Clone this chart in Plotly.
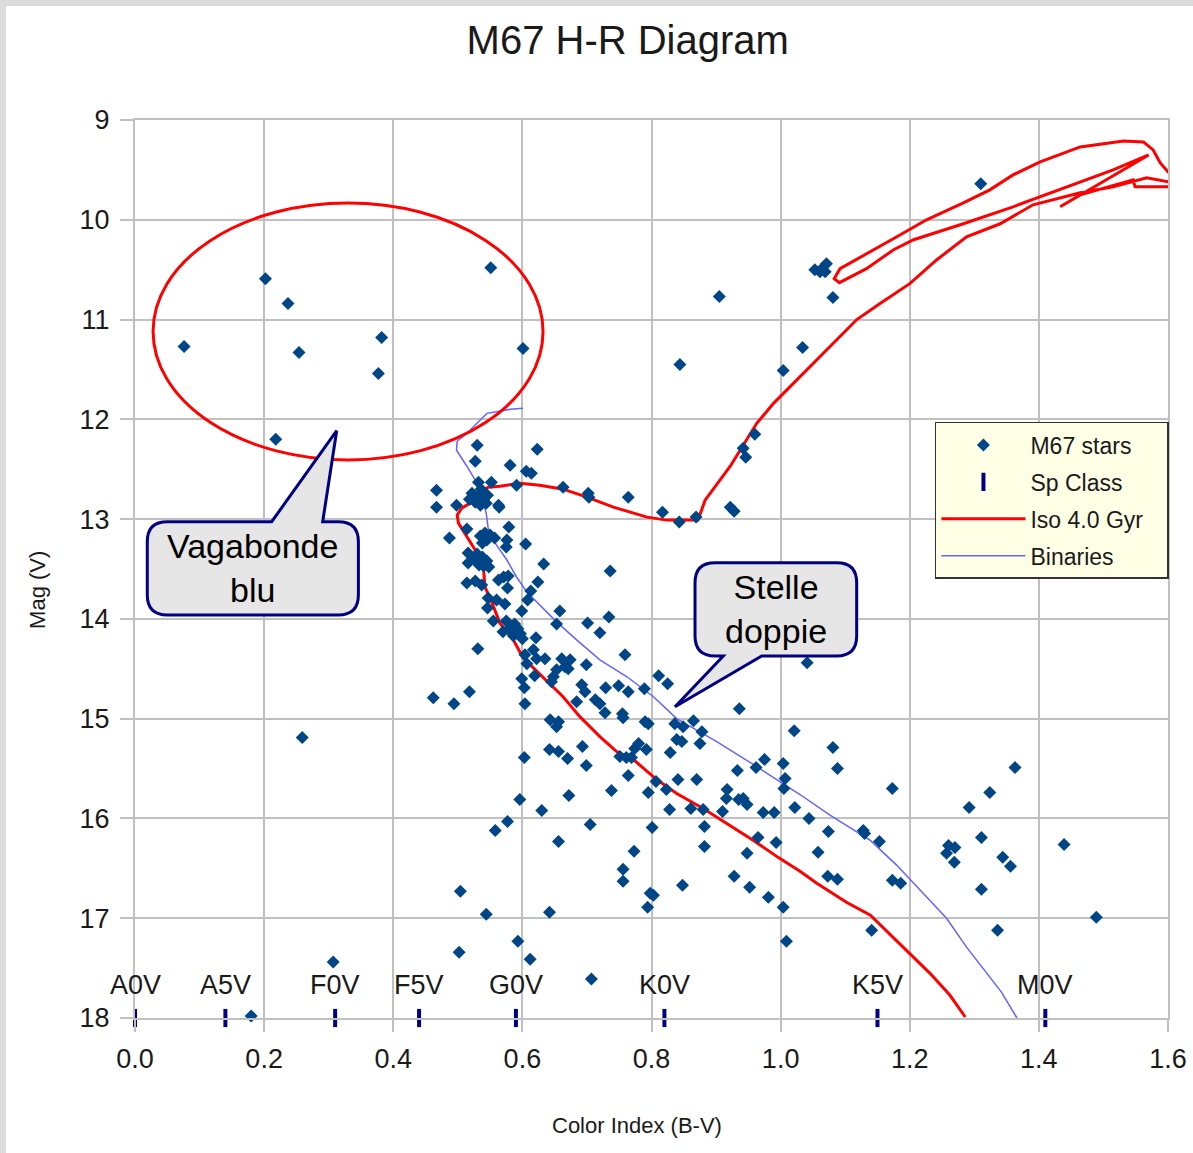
import plotly.graph_objects as go

# ---------------- data ----------------
star_pts = [
    (0.202,10.59),(0.237,10.84),(0.076,11.27),(0.254,11.33),(0.382,11.18),(0.377,11.54),(0.551,10.48),
    (0.601,11.29),(0.218,12.20),(0.259,15.19),(0.307,17.44),(0.180,17.98),
    (0.530,12.26),(0.623,12.30),(0.527,12.42),(0.581,12.46),(0.606,12.52),(0.614,12.54),(0.532,12.63),
    (0.552,12.63),(0.591,12.66),(0.663,12.68),(0.702,12.74),(0.703,12.78),(0.764,12.78),(0.817,12.93),
    (0.843,13.03),(0.869,12.98),(0.467,12.71),(0.467,12.88),(0.498,12.86),
    (0.522,12.74),(0.530,12.78),(0.536,12.70),(0.540,12.80),(0.527,12.83),(0.546,12.76),(0.535,12.86),
    (0.518,12.80),(0.544,12.84),
    (0.563,12.86),(0.564,12.88),(0.514,13.10),(0.487,13.19),(0.579,13.08),
    (0.535,13.17),(0.542,13.14),(0.550,13.16),(0.557,13.19),(0.545,13.21),(0.538,13.24),
    (0.576,13.21),(0.575,13.28),(0.605,13.25),(0.516,13.34),(0.516,13.44),
    (0.530,13.35),(0.538,13.38),(0.545,13.42),(0.540,13.47),(0.533,13.46),(0.548,13.48),(0.527,13.39),
    (0.633,13.45),(0.736,13.52),(0.514,13.64),(0.527,13.62),(0.537,13.66),(0.563,13.61),(0.571,13.58),
    (0.578,13.57),(0.577,13.69),(0.624,13.63),(0.613,13.72),(0.608,13.81),(0.547,13.79),(0.560,13.81),
    (0.546,13.89),(0.573,13.85),(0.599,13.92),(0.658,13.92),(0.701,14.04),(0.734,13.98),(0.720,14.14),
    (0.653,14.05),
    (0.555,14.02),(0.575,14.02),(0.588,14.05),(0.590,14.12),(0.597,14.15),(0.586,14.17),(0.570,14.13),
    (0.600,14.20),(0.593,14.10),(0.580,14.10),
    (0.621,14.19),(0.531,14.30),(0.604,14.36),(0.617,14.31),(0.622,14.40),(0.635,14.40),(0.607,14.45),
    (0.661,14.40),(0.674,14.41),(0.653,14.51),(0.666,14.48),(0.648,14.58),(0.645,14.63),(0.671,14.50),
    (0.699,14.46),(0.759,14.36),(0.599,14.60),(0.603,14.69),(0.619,14.57),(0.692,14.66),(0.697,14.73),
    (0.729,14.69),(0.749,14.67),(0.764,14.73),(0.789,14.70),(0.811,14.57),(0.825,14.65),(0.518,14.73),
    (0.462,14.79),
    (0.604,14.85),(0.494,14.85),(0.643,15.01),(0.656,15.03),(0.653,15.08),(0.684,14.83),(0.713,14.81),
    (0.720,14.85),(0.728,14.94),(0.755,14.95),(0.756,14.99),(0.790,15.03),(0.795,15.05),
    (0.836,15.05),(0.849,15.08),(0.865,15.02),(0.878,15.13),(0.839,15.21),(0.847,15.23),(0.875,15.25),
    (0.829,15.34),(0.936,14.90),(1.021,15.12),
    (0.642,15.31),(0.656,15.33),(0.670,15.40),(0.693,15.28),(0.699,15.47),(0.603,15.39),
    (0.751,15.38),(0.761,15.39),(0.769,15.39),(0.774,15.30),(0.780,15.25),(0.792,15.31),(0.764,15.57),
    (0.596,15.81),(0.672,15.77),(0.738,15.72),(0.630,15.92),
    (0.795,15.74),(0.807,15.63),(0.823,15.71),(0.841,15.61),(0.870,15.61),
    (0.828,15.91),(0.861,15.90),(0.880,15.91),(0.910,15.93),
    (0.933,15.52),(0.962,15.49),(0.975,15.41),(1.004,15.45),(1.007,15.60),(1.005,15.70),(0.917,15.71),
    (0.916,15.80),(0.935,15.81),(0.942,15.80),(0.948,15.86),(0.973,15.94),(0.990,15.94),(1.022,15.89),
    (0.558,16.12),(0.577,16.03),(0.656,16.23),(0.705,16.06),(0.801,16.09),(0.882,16.08),(0.882,16.28),
    (0.773,16.33),(0.965,16.19),(0.993,16.24),(0.948,16.35),(0.756,16.51),(0.756,16.63),(0.848,16.67),
    (0.928,16.58),(0.952,16.69),(0.981,16.79),(1.004,16.89),(0.798,16.75),(0.803,16.77),(0.794,16.89),
    (0.504,16.73),(0.544,16.96),(0.642,16.94),(0.593,17.23),(0.502,17.34),(0.612,17.41),(0.707,17.61),
    (1.009,17.23),
    (1.081,15.29),(1.088,15.50),(1.173,15.70),(1.044,16.00),(1.074,16.13),(1.128,16.12),(1.130,16.15),
    (1.153,16.23),(1.058,16.34),(1.073,16.58),(1.088,16.61),(1.173,16.62),(1.186,16.65),(1.141,17.12),
    (1.292,15.89),(1.324,15.74),(1.363,15.49),(1.311,16.19),(1.260,16.27),(1.270,16.29),(1.257,16.35),
    (1.269,16.44),(1.344,16.39),(1.356,16.48),(1.311,16.71),(1.336,17.12),(1.439,16.26),(1.489,16.99),
    (1.310,9.64),(1.053,10.50),(1.061,10.52),(1.071,10.44),(1.069,10.52),(1.064,10.49),(1.081,10.78),
    (0.905,10.77),(1.034,11.28),(1.004,11.51),(0.844,11.45),(0.960,12.15),(0.942,12.29),(0.946,12.38),
    (0.922,12.88),(0.928,12.92),(1.041,14.44),
]
star_bv = [p[0] for p in star_pts]
star_v = [p[1] for p in star_pts]

# Spectral class reference (B-V) along the bottom
class_names = ["A0V", "A5V", "F0V", "F5V", "G0V", "K0V", "K5V", "M0V"]
class_bv = [0.00, 0.14, 0.31, 0.44, 0.59, 0.82, 1.15, 1.41]
class_v = [18, 18, 18, 18, 18, 18, 18, 18]

# Isochrone 4.0 Gyr
iso_bv = [1.286,1.262,1.231,1.206,1.175,1.139,1.102,1.056,1.030,0.996,0.958,0.917,0.880,0.839,0.808,
          0.772,0.746,0.720,0.689,0.663,0.632,0.601,0.586,0.565,0.553,0.542,0.540,0.537,0.524,0.511,
          0.501,0.499,0.506,0.519,0.532,0.537,0.547,0.565,0.596,0.627,0.663,0.700,0.741,0.793,0.824,
          0.872,0.883,0.922,0.963,0.989,1.035,1.077,1.118,1.154,1.200,1.242,1.288,1.340,1.391,1.464,
          1.515,1.567,1.601,1.619,
          1.600,1.588,1.577,1.562,1.531,1.464,1.402,1.360,1.324,1.283,1.226,1.180,1.133,1.092,1.083,
          1.091,1.133,1.175,1.206,1.283,1.360,1.438,1.515,1.570,1.433,1.464,1.546,1.549,1.600]
iso_v = [17.99,17.77,17.55,17.39,17.19,16.97,16.84,16.65,16.53,16.39,16.22,16.05,15.90,15.75,15.61,
         15.41,15.33,15.18,14.98,14.78,14.58,14.39,14.21,14.04,13.84,13.68,13.51,13.41,13.28,13.14,
         13.04,12.96,12.89,12.84,12.81,12.72,12.68,12.67,12.64,12.66,12.70,12.78,12.88,12.98,13.01,
         13.01,12.81,12.47,12.04,11.84,11.54,11.27,11.00,10.84,10.64,10.40,10.17,10.04,9.85,9.73,
         9.67,9.58,9.62,9.58,
         9.52,9.43,9.30,9.22,9.21,9.27,9.42,9.55,9.70,9.83,10.00,10.17,10.34,10.49,10.59,
         10.63,10.49,10.30,10.20,10.04,9.87,9.68,9.50,9.35,9.87,9.75,9.60,9.67,9.67]

# Binaries sequence
bin_bv = [0.601,0.581,0.545,0.529,0.514,0.499,0.498,0.514,0.527,0.537,0.544,0.547,0.558,0.576,0.591,
          0.607,0.627,0.653,0.684,0.720,0.762,0.803,0.839,0.901,0.958,1.004,1.030,1.077,1.139,1.180,
          1.216,1.257,1.288,1.319,1.342,1.366]
bin_v = [11.89,11.90,11.94,12.04,12.14,12.22,12.31,12.47,12.61,12.78,12.94,13.09,13.24,13.41,13.58,
         13.73,13.86,14.03,14.21,14.41,14.58,14.78,15.00,15.23,15.46,15.65,15.76,15.97,16.22,16.47,
         16.72,17.00,17.29,17.55,17.74,18.00]

FONT = "Liberation Sans, Arial, sans-serif"
TXT = "#1a1a1a"
PAD = "\u00a0\u00a0\u00a0"

fig = go.Figure()
fig.add_trace(go.Scatter(x=iso_bv, y=iso_v, mode="lines", name="Iso 4.0 Gyr" + PAD,
                         legendgroup="c", legendrank=3,
                         line=dict(color="#ff0000", width=3)))
fig.add_trace(go.Scatter(x=bin_bv, y=bin_v, mode="lines", name="Binaries",
                         legendgroup="d", legendrank=4,
                         line=dict(color="#6464ff", width=1.5)))
fig.add_trace(go.Scatter(x=star_bv, y=star_v, mode="markers", name="M67 stars",
                         legendgroup="a", legendrank=1,
                         marker=dict(symbol="diamond", size=10, color="#004586",
                                     line=dict(width=0)), cliponaxis=False))
fig.add_trace(go.Scatter(x=class_bv, y=class_v, mode="markers", name="Sp Class",
                         legendgroup="b", legendrank=2,
                         marker=dict(symbol="line-ns", size=13,
                                     line=dict(color="#000080", width=4)),
                         cliponaxis=False))

annotations = []
for name, bv, v in zip(class_names, class_bv, class_v):
    annotations.append(dict(x=bv, y=v, xref="x", yref="y", text=name, showarrow=False,
                            yshift=33, yanchor="middle",
                            font=dict(family=FONT, size=27, color=TXT)))

annotations += [
    dict(x=0.486, y=-0.120, xref="paper", yref="paper", text="Color Index (B-V)",
         xanchor="center", yanchor="middle",
         showarrow=False, font=dict(family=FONT, size=22, color=TXT)),
    dict(x=-0.095, y=0.4766, xref="paper", yref="paper", text="Mag (V)", textangle=-90,
         xanchor="center", yanchor="middle",
         showarrow=False, font=dict(family=FONT, size=22, color=TXT)),
    dict(x=0.1825, y=13.49, xref="x", yref="y", text="Vagabonde<br>blu", showarrow=False,
         font=dict(family=FONT, size=34, color="#000000")),
    dict(x=0.9926, y=13.90, xref="x", yref="y", text="Stelle<br>doppie", showarrow=False,
         font=dict(family=FONT, size=34, color="#000000")),
]


def callout(x0, x1, yt, yb, wedge, rx=0.031, ry=0.2, top=True):
    wl, wr, tx, ty = wedge
    if top:
        p = (f"M {x0+rx},{yt} L {wl},{yt} L {tx},{ty} L {wr},{yt} L {x1-rx},{yt} "
             f"Q {x1},{yt} {x1},{yt+ry} L {x1},{yb-ry} Q {x1},{yb} {x1-rx},{yb} "
             f"L {x0+rx},{yb} Q {x0},{yb} {x0},{yb-ry} L {x0},{yt+ry} Q {x0},{yt} {x0+rx},{yt} Z")
    else:
        p = (f"M {x0+rx},{yt} L {x1-rx},{yt} "
             f"Q {x1},{yt} {x1},{yt+ry} L {x1},{yb-ry} Q {x1},{yb} {x1-rx},{yb} "
             f"L {wr},{yb} L {tx},{ty} L {wl},{yb} "
             f"L {x0+rx},{yb} Q {x0},{yb} {x0},{yb-ry} L {x0},{yt+ry} Q {x0},{yt} {x0+rx},{yt} Z")
    return dict(type="path", path=p, xref="x", yref="y", fillcolor="#e6e6e6",
                line=dict(color="#000080", width=3), layer="above")


shapes = [
    dict(type="circle", xref="x", yref="y", x0=0.028, x1=0.632, y0=9.832, y1=12.407,
         line=dict(color="#ff0000", width=3), layer="above"),
    callout(0.019, 0.346, 13.026, 13.961, (0.2117, 0.2907, 0.3124, 12.114), top=True),
    callout(0.8674, 1.1178, 13.437, 14.372, (0.9112, 0.9707, 0.8364, 14.880), top=False),
    # grey frame on top/left of the picture
    dict(type="rect", xref="paper", yref="paper", x0=-0.2, x1=1.1, y0=1.1269, y1=1.2,
         fillcolor="#dcdcdc", line=dict(width=0), layer="below"),
    dict(type="rect", xref="paper", yref="paper", x0=-0.2, x1=-0.1249, y0=-0.2, y1=1.2,
         fillcolor="#dcdcdc", line=dict(width=0), layer="below"),
]

fig.update_layout(
    width=1193, height=1153,
    margin=dict(l=135, r=25, t=120, b=135, autoexpand=False),
    paper_bgcolor="#ffffff", plot_bgcolor="#ffffff",
    font=dict(family=FONT, color=TXT),
    title=dict(text="M67 H-R Diagram", x=0.477, xref="paper", xanchor="center",
               y=1 - 40 / 1153, yref="container", yanchor="middle",
               font=dict(family=FONT, size=40, color=TXT)),
    xaxis=dict(range=[0, 1.6], tickmode="linear", tick0=0, dtick=0.2, tickformat=".1f",
               automargin=False,
               showgrid=True, gridcolor="#c0c0c0", gridwidth=2, zeroline=False,
               showline=True, linecolor="#c0c0c0", linewidth=2, mirror=True,
               ticks="outside", ticklen=12, tickwidth=2, tickcolor="#c0c0c0",
               ticklabelstandoff=4, tickfont=dict(family=FONT, size=27, color=TXT)),
    yaxis=dict(range=[18, 9], tickmode="linear", tick0=9, dtick=1,
               automargin=False,
               showgrid=True, gridcolor="#c0c0c0", gridwidth=2, zeroline=False,
               showline=True, linecolor="#c0c0c0", linewidth=2, mirror=True,
               ticks="outside", ticklen=13, tickwidth=2, tickcolor="#c0c0c0",
               ticklabelstandoff=5, tickfont=dict(family=FONT, size=27, color=TXT)),
    legend=dict(x=0.7744, y=0.6637, xanchor="left", yanchor="top",
                bgcolor="#ffffe6", bordercolor="#333333", borderwidth=1.5,
                font=dict(family=FONT, size=23, color=TXT),
                itemwidth=84, traceorder="grouped", tracegroupgap=4),
    annotations=annotations,
    shapes=shapes,
    showlegend=True,
)

fig.write_html("out.html")
